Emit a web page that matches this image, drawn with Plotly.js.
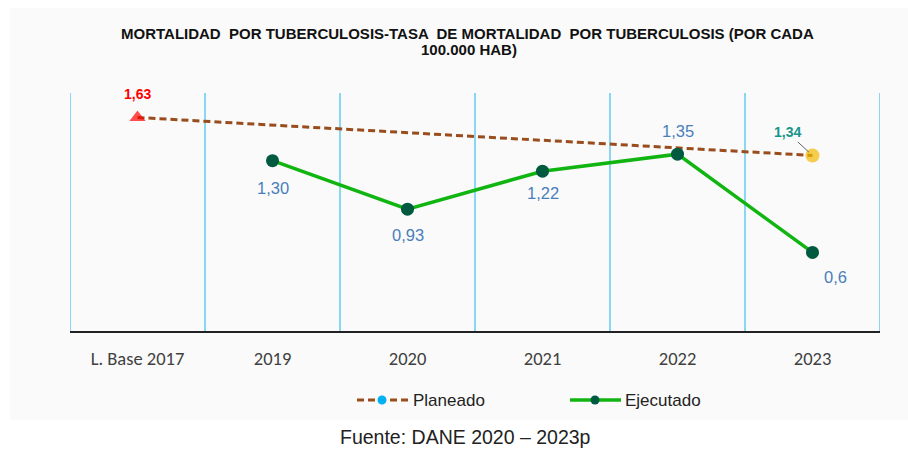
<!DOCTYPE html>
<html>
<head>
<meta charset="utf-8">
<script src="https://cdn.plot.ly/plotly-3.0.1.min.js"></script>
<style>html,body{margin:0;padding:0;background:#fff;}#chart{width:908px;height:449px;}</style>
</head>
<body>
<div id="chart"></div>
<script>
var categories = ["L. Base 2017", "2019", "2020", "2021", "2022", "2023"];
var planeado = [1.63, null, null, null, null, 1.34];
var ejecutado = [null, 1.30, 0.93, 1.22, 1.35, 0.6];
var ejecutadoLabels = [null, "1,30", "0,93", "1,22", "1,35", "0,6"];
var planeadoLabels = ["1,63", null, null, null, null, "1,34"];
var titleLines = ["MORTALIDAD  POR TUBERCULOSIS-TASA  DE MORTALIDAD  POR TUBERCULOSIS (POR CADA", "100.000 HAB)"];
var sourceText = "Fuente: DANE 2020 \u2013 2023p";
var legendNames = ["Planeado", "Ejecutado"];

// plot area geometry in pixels (for converting page positions to paper coords)
var L = 70, R = 28, T = 93, B = 118, W = 908, H = 449;
var PW = W - L - R, PH = H - T - B;
function px(x) { return (x - L) / PW; }
function py(y) { return (H - B - y) / PH; }

var brown = '#9a4d1c', green = '#11b511', dkgreen = '#005a40';

var traces = [
  {
    x: categories, y: planeado, type: 'scatter', mode: 'lines+markers', connectgaps: true,
    name: legendNames[0], showlegend: false,
    line: {color: brown, width: 3, dash: '7px,4px'},
    marker: {symbol: ['triangle-up','circle','circle','circle','circle','circle'],
             color: ['#ff0000','#f2b800','#f2b800','#f2b800','#f2b800','#f2b800'],
             size: [14,14,14,14,14,14], line: {width: 0}}
  },
  {
    x: categories, y: ejecutado, type: 'scatter', mode: 'lines+markers', connectgaps: false,
    name: legendNames[1], showlegend: false,
    line: {color: green, width: 3.5},
    marker: {symbol: 'circle', color: dkgreen, size: 13, line: {width: 0}}
  }
];

var annotations = [];
// title lines
annotations.push({xref: 'paper', yref: 'paper', x: px(467), y: py(33), yanchor: 'middle',
  text: '<b>' + titleLines[0] + '</b>', showarrow: false,
  font: {family: 'Liberation Sans, Arial', size: 15, color: '#111'}});
annotations.push({xref: 'paper', yref: 'paper', x: px(469), y: py(49), yanchor: 'middle',
  text: '<b>' + titleLines[1] + '</b>', showarrow: false,
  font: {family: 'Liberation Sans, Arial', size: 15, color: '#111'}});
// source
annotations.push({xref: 'paper', yref: 'paper', x: px(465), y: py(437), yanchor: 'middle',
  text: sourceText, showarrow: false,
  font: {family: 'Liberation Sans, Arial', size: 19.5, color: '#222'}});

// Ejecutado labels
var ejOffsets = [null, [0, -27], [0, -26], [0, -22], [0, 23], [23, -25]];
for (var i = 0; i < categories.length; i++) {
  if (ejecutado[i] === null) continue;
  annotations.push({x: i, y: ejecutado[i], xref: 'x', yref: 'y',
    xshift: ejOffsets[i][0], yshift: ejOffsets[i][1],
    text: ejecutadoLabels[i], showarrow: false,
    font: {family: 'Liberation Sans, Arial', size: 16.5, color: '#4a7ebb'}});
}
// Planeado labels
annotations.push({x: 0, y: planeado[0], xref: 'x', yref: 'y', yshift: 23,
  text: '<b>' + planeadoLabels[0] + '</b>', showarrow: false,
  font: {family: 'Liberation Sans, Arial', size: 14, color: '#ff0000'}});
annotations.push({x: 5, y: planeado[5], xref: 'x', yref: 'y',
  ax: -25, ay: -23, showarrow: true, arrowhead: 0, arrowwidth: 0.8, arrowcolor: '#404040',
  text: '<b>' + planeadoLabels[5] + '</b>', standoff: 5,
  font: {family: 'Liberation Sans, Arial', size: 14, color: '#16958a'}});

// legend text
annotations.push({xref: 'paper', yref: 'paper', x: px(411), y: py(400), xanchor: 'left', yanchor: 'middle',
  text: legendNames[0], showarrow: false, font: {family: 'Liberation Sans, Arial', size: 17, color: '#222'}});
annotations.push({xref: 'paper', yref: 'paper', x: px(623), y: py(400), xanchor: 'left', yanchor: 'middle',
  text: legendNames[1], showarrow: false, font: {family: 'Liberation Sans, Arial', size: 17, color: '#222'}});

var shapes = [
  {type: 'rect', xref: 'paper', yref: 'paper', layer: 'below',
   x0: px(10), x1: px(908), y0: py(420), y1: py(8),
   fillcolor: '#fafafa', line: {width: 0}}
];
for (var k = 0; k <= categories.length; k++) {
  shapes.push({type: 'line', xref: 'x', yref: 'paper', x0: k - 0.5, x1: k - 0.5, y0: 0, y1: 1,
    line: {color: '#1ab4ee', width: 1}, layer: 'below'});
}
// legend symbols
shapes.push({type: 'line', xref: 'paper', yref: 'paper', x0: px(357), x1: px(408), y0: py(400), y1: py(400),
  line: {color: brown, width: 3, dash: '7px,4px'}});
shapes.push({type: 'circle', xref: 'paper', yref: 'paper', x0: px(377.5), x1: px(386.5), y0: py(395.5), y1: py(404.5),
  fillcolor: '#00b0f0', line: {width: 0}});
shapes.push({type: 'line', xref: 'paper', yref: 'paper', x0: px(570), x1: px(621), y0: py(400), y1: py(400),
  line: {color: green, width: 3.5}});
shapes.push({type: 'circle', xref: 'paper', yref: 'paper', x0: px(590.5), x1: px(599.5), y0: py(395.5), y1: py(404.5),
  fillcolor: dkgreen, line: {width: 0}});

var layout = {
  width: W, height: H,
  margin: {l: L, r: R, t: T, b: B},
  paper_bgcolor: '#ffffff', plot_bgcolor: 'rgba(0,0,0,0)',
  showlegend: false,
  xaxis: {type: 'category', range: [-0.5, 5.5], showgrid: false, zeroline: false,
    showline: true, linecolor: '#222', linewidth: 1.5, ticks: '', ticklen: 0,
    ticklabelstandoff: 10,
    tickfont: {family: 'Carlito, Liberation Sans, Arial', size: 18.5, color: '#404040'},
    fixedrange: true},
  yaxis: {range: [0, 1.817], showgrid: false, zeroline: false, showticklabels: false,
    showline: false, fixedrange: true},
  annotations: annotations,
  shapes: shapes
};

Plotly.newPlot('chart', traces, layout, {displayModeBar: false, staticPlot: true});
</script>
</body>
</html>
